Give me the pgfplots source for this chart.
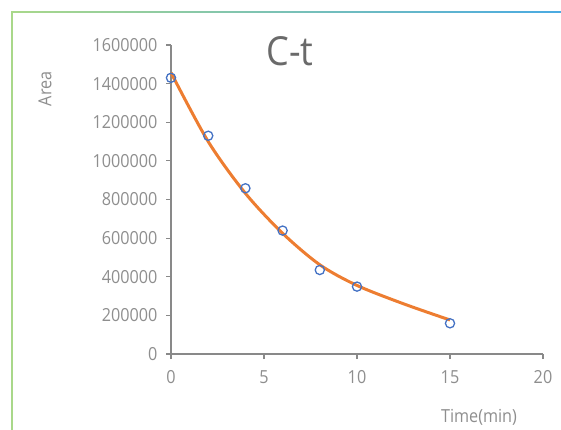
\documentclass[border=0pt]{standalone}
\usepackage{fontspec}
\setmainfont[FakeStretch=0.9]{Open Sans}
\usepackage{pgfplots}
\pgfplotsset{compat=1.18}

\definecolor{axisgray}{HTML}{898989}
\definecolor{labelgray}{HTML}{8E8E8E}
\definecolor{titlegray}{HTML}{6A6A6A}
\definecolor{ptblue}{HTML}{4472C4}
\definecolor{fitorange}{HTML}{ED7D31}
\definecolor{framegreen}{HTML}{A9D88A}
\definecolor{frameblue}{HTML}{4AAAE2}

\begin{document}
\begin{tikzpicture}
\useasboundingbox (0pt,0pt) rectangle (561pt,430pt);
% chart frame (left and top edge)
\fill[framegreen] (11.3pt,0pt) rectangle (12.7pt,418.7pt);
\shade[left color=framegreen, right color=frameblue] (11.3pt,417.3pt) rectangle (561pt,418.7pt);

\begin{axis}[
    at={(171pt,76pt)}, anchor=south west,
    scale only axis,
    width=372pt, height=309pt,
    xmin=0, xmax=20, ymin=0, ymax=1600000,
    xtick={0,5,10,15,20},
    ytick={0,200000,...,1600000},
    axis lines=left,
    axis line style={-, draw=axisgray, line width=1.2pt},
    tick style={draw=axisgray, line width=1.2pt},
    tick align=outside,
    major tick length=5pt,
    scaled y ticks=false,
    /pgf/number format/assume math mode=true,
    yticklabel style={/pgf/number format/fixed, /pgf/number format/1000 sep={}, xshift=-5pt},
    xticklabel style={yshift=-8pt},
    ticklabel style={font=\fontsize{18}{20}\selectfont, text=labelgray},
    xlabel={Time(min)},
    ylabel={Area},
    label style={font=\fontsize{18}{20}\selectfont, text=labelgray},
    xlabel style={at={(rel axis cs:0.828,-0.205)}, anchor=center},
    ylabel style={at={(rel axis cs:-0.339,0.858)}, anchor=center, rotate=0},
    title={C-t},
    title style={at={(rel axis cs:0.32,0.961)}, anchor=center,
        font=\fontsize{40}{42}\selectfont, text=titlegray},
    clip=false,
]
\addplot[only marks, mark=o, mark size=4.6pt,
    mark options={draw=ptblue, line width=1.3pt}]
    coordinates {(0,1430000) (2,1130000) (4,858000) (6,639000) (8,435000) (10,349000) (15,159000)};
\addplot[fitorange, line width=3pt, smooth]
    coordinates {(0,1457000) (2,1100000) (4,832000) (6,625000) (8,462000) (10,355000) (12.5,260000) (15,176000)};
\end{axis}
\end{tikzpicture}
\end{document}
